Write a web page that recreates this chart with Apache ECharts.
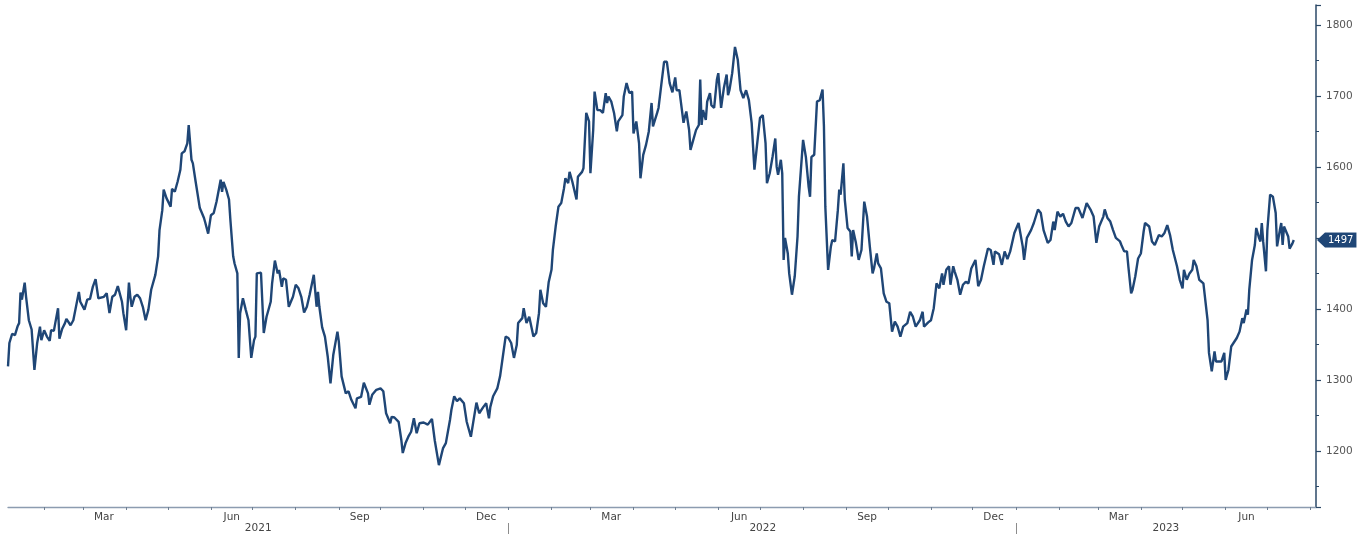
<!DOCTYPE html>
<html>
<head>
<meta charset="utf-8">
<script src="https://cdn.jsdelivr.net/npm/echarts@6/dist/echarts.min.js"></script>
<style>
html,body{margin:0;padding:0;background:#ffffff;}
#chart{width:1365px;height:534px;}
</style>
</head>
<body>
<div id="chart"></div>
<script>
// ---- data ----
const START_DATE = '2021-01-06';
const END_DATE = '2023-08-05';
// observation day = days after START_DATE
const obsDay = [
0,1,3,5,7,8,9,10,12,13,15,17,19,21,23,24,26,28,30,31,33,34,36,37,39,41,42,45,47,51,52,55,57,59,61,63,65,69,71,73,75,77,79,82,83,85,87,88,89,91,93,95,97,99,101,103,106,108,109,111,112,114,115,117,118,120,122,124,125,127,129,130,132,133,135,138,141,142,144,146,148,150,151,153,154,155,157,159,160,162,163,165,166,167,169,171,173,175,177,178,179,182,184,186,189,190,192,194,195,197,198,200,202,205,207,209,211,213,215,217,220,222,223,224,226,228,230,232,234,237,238,240,243,245,247,248,250,251,254,256,259,260,262,265,268,270,272,275,276,278,281,283,284,286,288,290,292,294,296,299,302,305,307,310,313,315,318,319,321,323,325,328,330,333,335,337,339,342,344,346,347,349,352,354,356,358,360,362,364,366,367,370,371,373,375,378,380,382,383,385,387,389,391,392,394,396,398,400,401,403,404,406,407,409,410,413,414,416,418,419,421,422,424,426,428,430,431,432,434,436,438,439,442,443,445,447,449,450,452,454,455,457,459,461,463,464,467,468,470,472,474,476,478,480,481,483,486,487,488,490,491,493,495,497,498,499,500,502,503,505,506,508,510,511,513,515,517,518,519,521,523,525,527,529,531,533,535,537,539,541,543,545,546,548,550,552,553,554,556,557,558,559,561,562,564,566,568,569,572,574,576,577,578,580,582,584,586,587,588,590,592,593,595,597,598,599,601,602,604,606,607,608,610,612,614,616,618,620,622,623,625,626,628,630,632,634,636,638,640,642,644,647,649,651,653,656,658,659,662,664,666,668,670,672,673,675,677,678,680,681,683,685,687,689,691,693,696,698,700,702,705,707,709,710,713,715,717,719,721,724,727,730,731,733,736,738,741,743,745,748,750,752,753,755,757,759,761,763,765,768,770,773,774,776,779,781,783,785,788,789,791,793,795,797,800,801,803,805,806,808,809,811,813,815,817,818,821,823,825,828,830,832,834,836,838,841,843,845,846,848,850,852,853,855,857,858,860,863,864,866,868,869,871,873,875,876,878,880,882,884,886,888,889,891,892,893,895,897,898,900,901,902,903,905,906,908,910,912,913,915,916,917,918,919,921,922,924,925
];
const obsValue = [
1319,1352,1365,1363,1376,1380,1423,1413,1437,1417,1384,1371,1314,1352,1375,1356,1370,1361,1355,1370,1369,1380,1401,1358,1372,1380,1386,1377,1384,1424,1410,1399,1413,1414,1431,1442,1415,1417,1422,1394,1417,1420,1432,1410,1394,1370,1437,1417,1403,1417,1420,1415,1403,1384,1399,1427,1448,1474,1511,1539,1568,1556,1558,1544,1569,1565,1579,1596,1619,1622,1633,1659,1610,1605,1579,1542,1528,1521,1506,1532,1535,1551,1561,1582,1565,1579,1568,1554,1525,1474,1464,1450,1331,1394,1415,1399,1384,1331,1356,1361,1450,1451,1366,1389,1410,1436,1468,1450,1455,1431,1443,1441,1403,1417,1434,1429,1417,1395,1403,1420,1448,1403,1424,1403,1374,1361,1333,1295,1335,1368,1354,1305,1281,1284,1272,1270,1260,1274,1276,1296,1281,1265,1279,1286,1288,1284,1253,1239,1248,1247,1241,1215,1197,1211,1220,1227,1246,1225,1239,1240,1237,1245,1215,1180,1204,1211,1244,1258,1277,1270,1274,1267,1241,1220,1244,1268,1253,1262,1267,1246,1262,1277,1288,1305,1333,1361,1359,1352,1331,1349,1380,1387,1401,1380,1389,1361,1366,1394,1427,1408,1403,1438,1455,1483,1516,1544,1549,1570,1584,1577,1593,1579,1577,1554,1586,1593,1598,1676,1664,1591,1652,1706,1680,1680,1676,1704,1690,1699,1692,1676,1650,1664,1673,1699,1718,1704,1706,1647,1664,1633,1584,1617,1631,1650,1690,1657,1676,1683,1716,1748,1748,1718,1705,1726,1708,1708,1662,1671,1678,1652,1624,1638,1652,1659,1723,1659,1680,1666,1692,1704,1687,1683,1723,1732,1683,1711,1730,1701,1708,1732,1769,1751,1708,1697,1708,1694,1662,1596,1633,1669,1673,1633,1577,1591,1614,1640,1600,1589,1610,1591,1469,1500,1478,1450,1420,1446,1502,1558,1638,1614,1572,1558,1614,1617,1692,1694,1709,1657,1544,1455,1488,1497,1495,1539,1568,1561,1605,1554,1514,1509,1474,1511,1493,1469,1483,1551,1530,1488,1450,1457,1478,1464,1457,1422,1410,1408,1368,1382,1375,1361,1375,1380,1396,1389,1375,1384,1396,1375,1381,1384,1401,1436,1429,1450,1434,1455,1460,1434,1460,1453,1441,1420,1434,1438,1436,1457,1469,1432,1441,1460,1485,1483,1462,1481,1477,1462,1481,1470,1481,1507,1521,1488,1469,1500,1511,1521,1540,1535,1511,1493,1497,1523,1511,1537,1530,1534,1523,1516,1521,1542,1542,1528,1528,1549,1539,1530,1493,1516,1530,1540,1528,1523,1511,1500,1495,1490,1481,1481,1460,1422,1427,1446,1471,1478,1509,1521,1516,1495,1490,1504,1502,1507,1518,1504,1483,1460,1441,1429,1455,1441,1450,1455,1469,1460,1441,1443,1436,1384,1338,1312,1340,1326,1326,1326,1338,1300,1314,1347,1353,1359,1368,1387,1380,1399,1392,1427,1469,1490,1514,1500,1495,1521,1495,1453,1511,1561,1558,1535,1488,1511,1521,1490,1516,1518,1502,1485,1492,1497
];
const Y_MIN = 1121;
const Y_MAX = 1828;
const quarterMonths = [3, 6, 9, 12];
const monthNames = ['Jan','Feb','Mar','Apr','May','Jun','Jul','Aug','Sep','Oct','Nov','Dec'];

// ---- build categories (every calendar day) ----
const DAY = 86400000;
const startMs = Date.parse(START_DATE + 'T00:00:00Z');
const endMs = Date.parse(END_DATE + 'T00:00:00Z');
const N = Math.round((endMs - startMs) / DAY) + 1;
const categories = [];
for (let i = 0; i < N; i++) {
  categories.push(new Date(startMs + i * DAY).toISOString().slice(0, 10));
}
const seriesData = obsDay.map((d, i) => [categories[d], obsValue[i]]);
const lastValue = obsValue[obsValue.length - 1];

// year label positions: middle of each year's visible span
const yearMid = [];
const firstYear = +START_DATE.slice(0, 4), lastYear = +END_DATE.slice(0, 4);
for (let y = firstYear; y <= lastYear; y++) {
  let a = categories.indexOf(y + '-01-01'); if (a < 0) a = 0;
  let b = categories.indexOf((y + 1) + '-01-01'); if (b < 0) b = N - 1;
  yearMid.push(Math.round((a + b) / 2));
}

const FONT = 'DejaVu Sans';
const LINE_COLOR = '#1f4676';
const chart = echarts.init(document.getElementById('chart'), null, {renderer: 'canvas'});
chart.setOption({
  animation: false,
  backgroundColor: '#ffffff',
  grid: {left: 8, right: 49, top: 5, bottom: 27},
  xAxis: [{
    type: 'category',
    data: categories,
    boundaryGap: false,
    axisLine: {show: true, lineStyle: {color: '#8c9cb0', width: 1.3}},
    axisTick: {show: true, length: 3, interval: (i, v) => v.slice(8) === '01', lineStyle: {color: '#6f7f92', width: 1}},
    axisLabel: {
      interval: (i, v) => v.slice(8) === '16' && quarterMonths.indexOf(+v.slice(5, 7)) >= 0,
      formatter: v => monthNames[+v.slice(5, 7) - 1],
      color: '#444', fontSize: 10.5, fontFamily: FONT, margin: 5
    },
    splitLine: {show: false}
  }, {
    type: 'category',
    data: categories,
    boundaryGap: false,
    position: 'bottom',
    offset: 16,
    axisLine: {show: false},
    axisTick: {show: true, length: 12, interval: (i, v) => v.slice(5) === '01-01', lineStyle: {color: '#8c8c8c', width: 1}},
    axisLabel: {
      interval: (i) => yearMid.indexOf(i) >= 0,
      formatter: v => v.slice(0, 4),
      color: '#444', fontSize: 10.5, fontFamily: FONT, margin: 0
    },
    splitLine: {show: false}
  }],
  yAxis: [{
    type: 'value', position: 'right', min: Y_MIN, max: Y_MAX, splitNumber: 14, scale: true,
    axisLine: {show: true, lineStyle: {color: '#2b4867', width: 1.5}},
    axisTick: {show: true, length: 3, lineStyle: {color: '#2b4867'}},
    axisLabel: {show: false},
    splitLine: {show: false}
  }, {
    type: 'value', position: 'right', min: Y_MIN, max: Y_MAX, splitNumber: 7, scale: true,
    axisLine: {show: false},
    axisTick: {show: true, length: 5, lineStyle: {color: '#2b4867', width: 1.2}},
    axisLabel: {
      show: true, margin: 10, color: '#555', fontSize: 10.5, fontFamily: FONT,
      formatter: v => (Math.abs(v % 100) < 1e-6 ? String(v) : '')
    },
    splitLine: {show: false}
  }],
  series: [{
    type: 'line',
    xAxisIndex: 0,
    yAxisIndex: 1,
    data: seriesData,
    showSymbol: false,
    connectNulls: true,
    lineStyle: {color: LINE_COLOR, width: 2.4},
    itemStyle: {color: LINE_COLOR},
    markPoint: {
      silent: true,
      symbol: 'triangle',
      symbolRotate: 90,
      symbolSize: [15, 8],
      symbolOffset: [5, 0],
      itemStyle: {color: LINE_COLOR},
      label: {
        show: true, position: 'right', distance: 0,
        formatter: String(lastValue),
        color: '#ffffff', backgroundColor: LINE_COLOR,
        fontSize: 10, fontFamily: FONT, padding: [2, 3, 2, 3], lineHeight: 11
      },
      data: [{coord: [categories[N - 1], lastValue]}]
    }
  }]
});
</script>
</body>
</html>
